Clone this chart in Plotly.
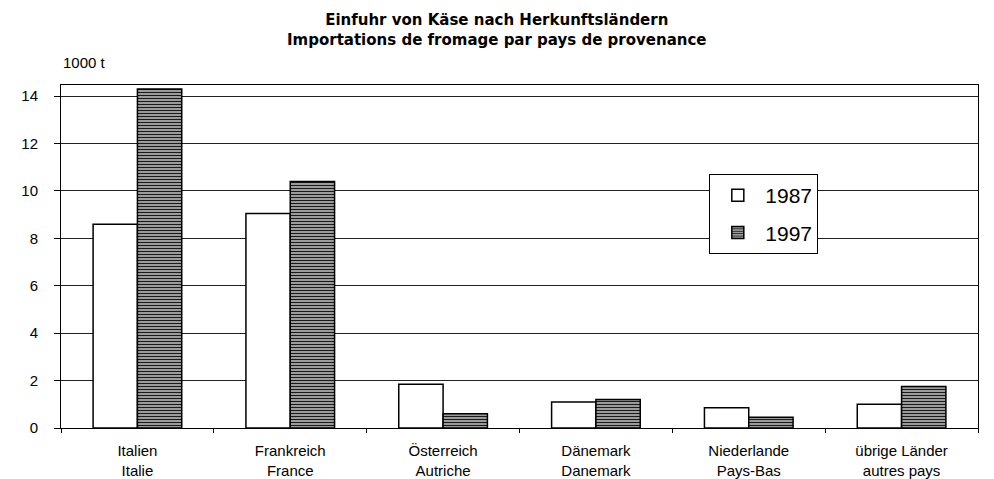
import plotly.graph_objects as go

# Cheese imports by country of origin, in 1000 t
categories = [
    "Italien<br>Italie",
    "Frankreich<br>France",
    "Österreich<br>Autriche",
    "Dänemark<br>Danemark",
    "Niederlande<br>Pays-Bas",
    "übrige Länder<br>autres pays",
]
values_1987 = [8.6, 9.05, 1.85, 1.1, 0.85, 1.0]
values_1997 = [14.3, 10.4, 0.6, 1.2, 0.45, 1.75]
y_ticks = [0, 2, 4, 6, 8, 10, 12, 14]
title_lines = [
    "Einfuhr von Käse nach Herkunftsländern",
    "Importations de fromage par pays de provenance",
]

FONT = "Liberation Sans, Arial, Helvetica, sans-serif"
TITLE_FONT = "DejaVu Sans, Liberation Sans, sans-serif"

fig = go.Figure()
fig.add_trace(go.Bar(
    x=categories, y=values_1987, name="1987", legendgroup="a",
    marker=dict(color="white", line=dict(color="black", width=1.5)),
))
fig.add_trace(go.Bar(
    x=categories, y=values_1997, name="1997", legendgroup="b",
    marker=dict(
        color="white",
        line=dict(color="black", width=1.5),
        pattern=dict(shape="-", size=3, solidity=0.55,
                     fgcolor="#1a1a1a", bgcolor="#d8d8d8", fillmode="replace"),
    ),
))

annotations = [
    # two-line bold heading
    dict(text="<b>" + "<br>".join(title_lines) + "</b>",
         xref="paper", yref="paper", x=0.4755, y=1.1618,
         xanchor="center", yanchor="middle", showarrow=False,
         font=dict(size=15, family=TITLE_FONT)),
    # unit label above the value axis
    dict(text="1000 t", xref="paper", yref="paper", x=0, y=1.067,
         xanchor="left", yanchor="middle", showarrow=False,
         font=dict(size=15, family=FONT)),
]

fig.update_layout(
    width=994, height=479,
    margin=dict(l=61, r=16, t=85, b=51),
    paper_bgcolor="white", plot_bgcolor="white",
    font=dict(family=FONT, color="black", size=15),
    barmode="group", bargap=0.42, bargroupgap=0,
    legend=dict(
        x=0.707, y=0.7405, xanchor="left", yanchor="top",
        bgcolor="white", bordercolor="black", borderwidth=1,
        font=dict(size=21, family=FONT),
        tracegroupgap=7, traceorder="grouped", itemwidth=45,
    ),
    annotations=annotations,
)

fig.update_xaxes(
    automargin=False,
    showline=True, linecolor="black", linewidth=1, mirror=True,
    ticks="outside", tickson="boundaries", ticklen=4, tickcolor="black",
    tickfont=dict(size=15), showgrid=False, ticklabelstandoff=9,
)
fig.update_yaxes(
    automargin=False,
    range=[0, 14.47], tickvals=y_ticks,
    showline=True, linecolor="black", linewidth=1, mirror=True,
    ticks="outside", ticklen=6, tickcolor="black",
    showgrid=True, gridcolor="#222", gridwidth=1,
    tickfont=dict(size=15), zeroline=False, ticklabelstandoff=13,
)

fig.write_html("out.html")
